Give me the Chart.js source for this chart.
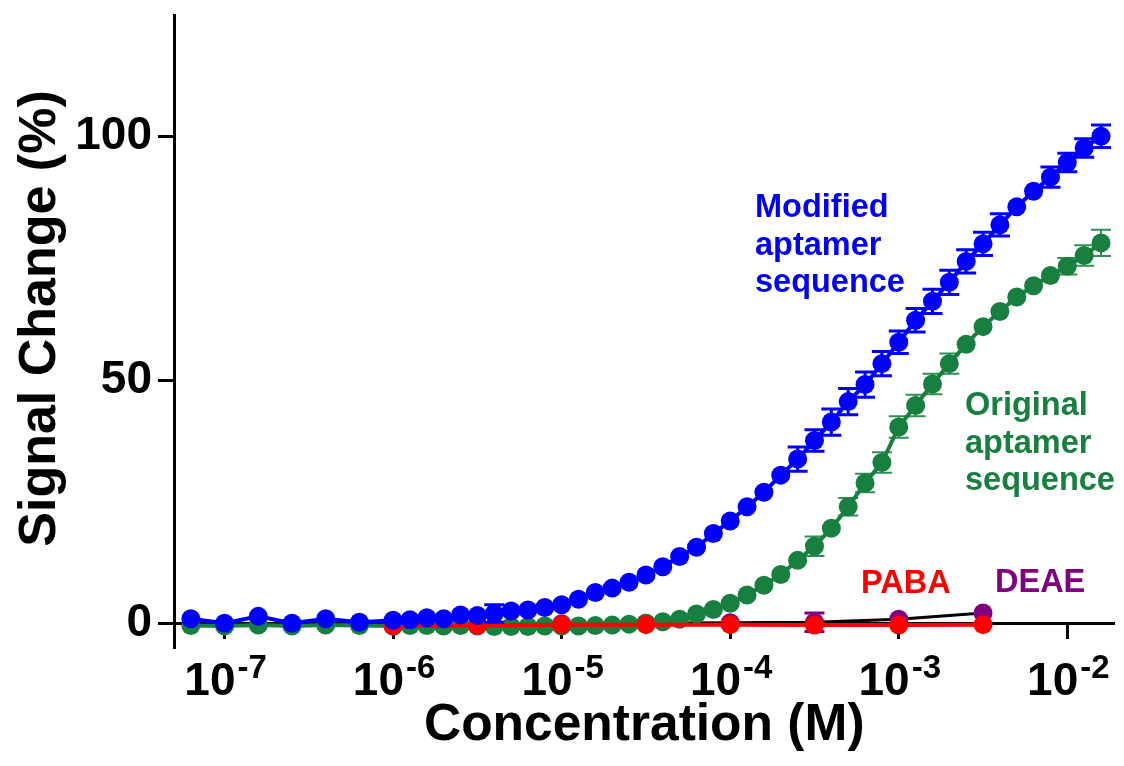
<!DOCTYPE html>
<html>
<head>
<meta charset="utf-8">
<title>Signal change vs concentration</title>
<script src="https://cdn.jsdelivr.net/npm/chart.js@4.4.1/dist/chart.umd.min.js"></script>
<style>
  html, body { margin: 0; padding: 0; background: #ffffff; }
  #wrap { width: 1124px; height: 766px; position: relative; }
</style>
</head>
<body>
<div id="wrap"><canvas id="chart"></canvas></div>
<script>
// ---- data: concentrations as powers of ten (M), signal change in % ----
const aptamerLogConc = [
  -7.2, -7.0, -6.8, -6.6, -6.4, -6.2, -6.0, -5.9, -5.8, -5.7,
  -5.6, -5.5, -5.4, -5.3, -5.2, -5.1, -5.0, -4.9, -4.8, -4.7,
  -4.6, -4.5, -4.4, -4.3, -4.2, -4.1, -4.0, -3.9, -3.8, -3.7,
  -3.6, -3.5, -3.4, -3.3, -3.2, -3.1, -3.0, -2.9, -2.8, -2.7,
  -2.6, -2.5, -2.4, -2.3, -2.2, -2.1, -2.0, -1.9, -1.8
];
const modifiedSignal = [
  1.0, 0.1, 1.5, 0.1, 1.0, 0.3, 0.7, 0.8, 1.2, 1.0,
  1.8, 1.7, 2.1, 2.6, 2.8, 3.3, 3.9, 5.0, 6.4, 7.3,
  8.5, 10.0, 11.7, 13.8, 15.7, 18.5, 21.1, 24.0, 27.0, 30.5,
  33.8, 37.6, 41.4, 45.6, 49.1, 53.4, 57.8, 62.3, 66.2, 70.1,
  74.4, 78.0, 81.9, 85.6, 88.8, 91.7, 94.7, 97.7, 100.1
];
const modifiedError = [
  0, 0, 0, 0, 0, 0, 0, 0, 0, 0,
  0, 0, 1.8, 0, 0, 0, 0, 0, 0, 0,
  0, 0, 0, 0, 0, 0, 0, 0, 0, 0,
  2.5, 2.2, 2.7, 2.7, 2.6, 2.5, 2.3, 2.4, 2.5, 2.5,
  2.4, 2.4, 2.3, 0, 0, 2.1, 1.9, 1.9, 2.3
];
const originalSignal = [
  -0.4, -0.5, -0.3, -0.5, -0.3, -0.4, -0.5, -0.4, -0.4, -0.5,
  -0.4, -0.5, -0.6, -0.6, -0.6, -0.5, -0.5, -0.5, -0.4, -0.3,
  -0.1, 0.1, 0.4, 0.9, 2.0, 2.9, 4.2, 5.9, 7.9, 10.1,
  13.0, 15.9, 19.6, 24.0, 28.9, 33.1, 40.4, 44.8, 49.2, 53.4,
  57.4, 61.0, 64.1, 67.1, 69.4, 71.5, 73.4, 75.6, 78.2
];
const originalError = [
  0, 0, 0, 0, 0, 0, 0, 0, 0, 0,
  0, 0, 0, 0, 0, 0, 0, 0, 0, 0,
  0, 0, 0, 0, 0, 0, 0, 0, 0, 0,
  0, 2.0, 0, 1.8, 1.9, 2.1, 2.2, 2.2, 2.1, 2.1,
  0, 0, 0, 0, 0, 0, 1.7, 2.1, 2.7
];
const controlLogConc = [-6.0, -5.5, -5.0, -4.5, -4.0, -3.5, -3.0, -2.5];
const pabaSignal = [-0.5, -0.4, -0.2, -0.2, -0.2, -0.3, -0.3, -0.2];
const deaeSignal = [-0.3, -0.2, 0.0, 0.1, 0.2, 0.3, 0.9, 2.2];
const deaeError  = [0, 0, 0, 0, 0, 1.9, 0, 0];

const xTickPowers = [-7, -6, -5, -4, -3, -2];
const yTickValues = [0, 50, 100];

// ---- styling ----
const FONT = '"Liberation Sans", Arial, Helvetica, sans-serif';
const BLUE = '#0000ff';
const GREEN = '#17803f';
const GREEN_BAR = '#2f8f55';
const RED = '#ff0000';
const PURPLE = '#800080';
const MARKER = 9.5;

const toPoints = (logs, ys) => logs.map((e, i) => ({ x: Math.pow(10, e), y: ys[i] }));

// Vertical error bars with caps, drawn from each dataset's `errors` array
const errorBarPlugin = {
  id: 'errorBars',
  beforeDatasetDraw(chart, args) {
    const ds = chart.data.datasets[args.index];
    if (!ds.errors) return;
    const xs = chart.scales.x, ys = chart.scales.y, ctx = chart.ctx;
    const cap = 10;
    ctx.save();
    ctx.strokeStyle = ds.errorColor;
    ctx.lineWidth = ds.errorWidth;
    ds.data.forEach((p, i) => {
      const e = ds.errors[i];
      if (!e) return;
      const px = xs.getPixelForValue(p.x);
      const top = ys.getPixelForValue(p.y + e);
      const bot = ys.getPixelForValue(p.y - e);
      ctx.beginPath();
      ctx.moveTo(px, top); ctx.lineTo(px, bot);
      ctx.moveTo(px - cap, top); ctx.lineTo(px + cap, top);
      ctx.moveTo(px - cap, bot); ctx.lineTo(px + cap, bot);
      ctx.stroke();
    });
    ctx.restore();
  }
};

// Tick labels of the log axis written as 10 with a raised exponent
const powerLabelPlugin = {
  id: 'powerLabels',
  afterDraw(chart) {
    const xs = chart.scales.x, ys = chart.scales.y, ctx = chart.ctx;
    const axisY = ys.getPixelForValue(0);
    ctx.save();
    ctx.fillStyle = '#000';
    ctx.textAlign = 'left';
    ctx.textBaseline = 'alphabetic';
    xs.ticks.forEach(t => {
      const exp = String(Math.round(Math.log10(t.value)));
      const px = xs.getPixelForValue(t.value);
      ctx.font = 'bold 46px ' + FONT;
      const wBase = ctx.measureText('10').width;
      ctx.font = 'bold 33px ' + FONT;
      const wExp = ctx.measureText(exp).width;
      const x0 = px - (wBase + wExp) / 2;
      ctx.font = 'bold 46px ' + FONT;
      ctx.fillText('10', x0, axisY + 71);
      ctx.font = 'bold 33px ' + FONT;
      ctx.fillText(exp, x0 + wBase + 2, axisY + 54);
    });
    ctx.restore();
  }
};

// Series names written next to their curves
const seriesNotes = [
  { lines: ['Modified', 'aptamer', 'sequence'], color: BLUE, x: 755, y: 217 },
  { lines: ['Original', 'aptamer', 'sequence'], color: GREEN, x: 965, y: 415 },
  { lines: ['PABA'], color: RED, x: 861, y: 593 },
  { lines: ['DEAE'], color: PURPLE, x: 995, y: 592 }
];
const notePlugin = {
  id: 'seriesNotes',
  afterDraw(chart) {
    const ctx = chart.ctx;
    ctx.save();
    ctx.font = 'bold 32.5px ' + FONT;
    ctx.textAlign = 'left';
    ctx.textBaseline = 'alphabetic';
    seriesNotes.forEach(n => {
      ctx.fillStyle = n.color;
      n.lines.forEach((s, i) => ctx.fillText(s, n.x, n.y + i * 37.5));
    });
    ctx.restore();
  }
};

new Chart(document.getElementById('chart'), {
  type: 'scatter',
  data: {
    datasets: [
      {
        label: 'Modified aptamer sequence',
        data: toPoints(aptamerLogConc, modifiedSignal),
        errors: modifiedError, errorColor: BLUE, errorWidth: 3,
        showLine: true, borderColor: BLUE, borderWidth: 4,
        pointRadius: MARKER, pointBackgroundColor: BLUE, pointBorderWidth: 0
      },
      {
        label: 'PABA',
        data: toPoints(controlLogConc, pabaSignal),
        showLine: true, borderColor: RED, borderWidth: 4,
        pointRadius: MARKER, pointBackgroundColor: RED, pointBorderWidth: 0
      },
      {
        label: 'Original aptamer sequence',
        data: toPoints(aptamerLogConc, originalSignal),
        errors: originalError, errorColor: GREEN_BAR, errorWidth: 2,
        showLine: true, borderColor: GREEN, borderWidth: 4,
        pointRadius: MARKER, pointBackgroundColor: GREEN, pointBorderWidth: 0
      },
      {
        label: 'DEAE',
        data: toPoints(controlLogConc, deaeSignal),
        errors: deaeError, errorColor: PURPLE, errorWidth: 3,
        showLine: true, borderColor: '#000000', borderWidth: 3,
        pointRadius: MARKER, pointBackgroundColor: PURPLE, pointBorderWidth: 0
      }
    ]
  },
  options: {
    responsive: true,
    maintainAspectRatio: false,
    animation: false,
    layout: { padding: { left: 9, top: 15, right: 4, bottom: 118 } },
    plugins: { legend: { display: false }, tooltip: { enabled: false } },
    scales: {
      x: {
        type: 'logarithmic',
        position: { y: 0 },
        min: Math.pow(10, -7.3),
        max: Math.pow(10, -1.72),
        afterBuildTicks: s => { s.ticks = xTickPowers.map(e => ({ value: Math.pow(10, e) })); },
        border: { display: true, color: '#000', width: 3, dash: [4, 4] },
        grid: { display: true, drawOnChartArea: false, drawTicks: true, tickLength: 14, tickWidth: 3, tickColor: '#000' },
        ticks: { display: false },
        title: {
          display: true, text: 'Concentration (M)', color: '#000',
          font: { family: FONT, size: 51.5, weight: 'bold' },
          padding: { top: 57, bottom: 0 }
        }
      },
      y: {
        min: -5,
        max: 125,
        afterBuildTicks: s => { s.ticks = yTickValues.map(v => ({ value: v })); },
        afterFit: s => { s.width = 165; s.paddingTop = 0; s.paddingBottom = 0; },
        border: { display: true, color: '#000', width: 3 },
        grid: { display: true, drawOnChartArea: false, drawTicks: true, tickLength: 16, tickWidth: 3, tickColor: '#000' },
        ticks: { color: '#000', padding: 6, font: { family: FONT, size: 46, weight: 'bold' } },
        title: {
          display: true, text: '\u2002Signal Change (%)', color: '#000',
          font: { family: FONT, size: 52, weight: 'bold' },
          padding: { top: 0, bottom: 0 }
        }
      }
    }
  },
  plugins: [errorBarPlugin, powerLabelPlugin, notePlugin]
});
</script>
</body>
</html>
